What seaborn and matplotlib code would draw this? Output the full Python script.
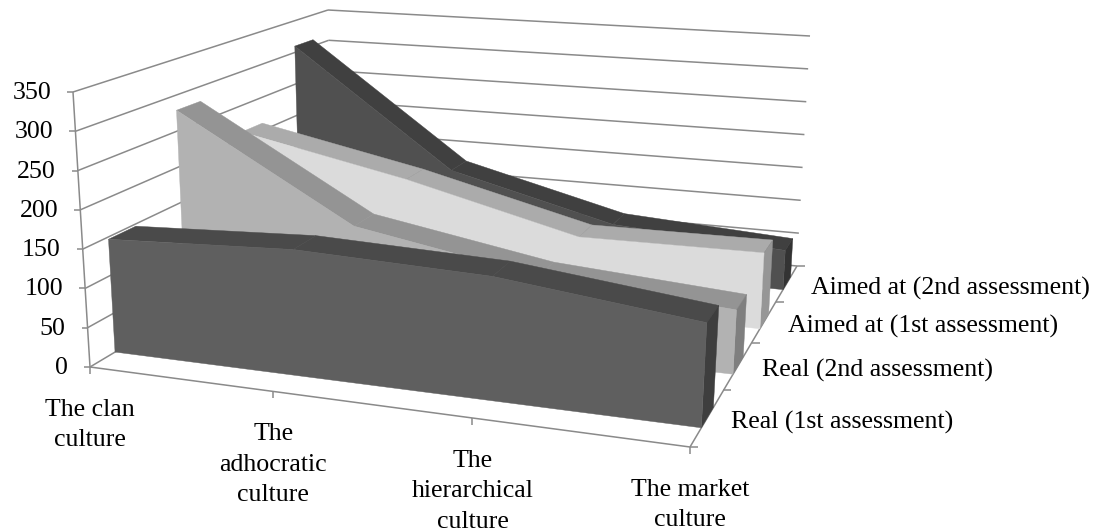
import numpy as np
import matplotlib
matplotlib.use("Agg")
import matplotlib.pyplot as plt
import seaborn as sns

# Data

categories = ["The clan\nculture", "The\nadhocratic\nculture", "The\nhierarchical\nculture", "The market\nculture"]
series_names = ["Real (1st assessment)", "Real (2nd assessment)", "Aimed at (1st assessment)", "Aimed at (2nd assessment)"]
real_1st = [147, 158, 150, 122]
real_2nd = [279, 140, 98, 81]
aimed_1st = [211, 161, 101, 103]
aimed_2nd = [310, 133, 72, 57]
y_ticks = [0, 50, 100, 150, 200, 250, 300, 350]

series_values = [real_1st, real_2nd, aimed_1st, aimed_2nd]

# front, top, side shades for each series
shades = [sns.color_palette(["#5f5f5f", "#4a4a4a", "#3e3e3e"]),
          sns.color_palette(["#b2b2b2", "#949494", "#7f7f7f"]),
          sns.color_palette(["#dbdbdb", "#ababab", "#969696"]),
          sns.color_palette(["#505050", "#404040", "#333333"])]

sns.set_theme(style="white")
plt.rcParams["font.family"] = ["Liberation Serif", "DejaVu Serif"]


# Projection of the 3d box on the picture


def homography(corners):
    (x0, y0), (x1, y1), (x2, y2), (x3, y3) = corners
    dx1, dx2, sx = x1 - x2, x3 - x2, x0 - x1 + x2 - x3
    dy1, dy2, sy = y1 - y2, y3 - y2, y0 - y1 + y2 - y3
    det = dx1 * dy2 - dx2 * dy1
    g = (sx * dy2 - dx2 * sy) / det
    h = (dx1 * sy - sx * dy1) / det
    return np.array([[x1 - x0 + g * x1, x3 - x0 + h * x3, x0],
                     [y1 - y0 + g * y1, y3 - y0 + h * y3, y0],
                     [g, h, 1]])


# front left, front right, back right, back left
floor = homography([(90, 367), (690, 447), (797, 266), (333, 222)])
roof = homography([(73, 92), (706, 137), (810, 36), (328, 10)])


def project(cat, depth, value):
    p = np.array([cat / 3, depth / 4, 1])
    a = floor @ p
    b = roof @ p
    a = a[:2] / a[2]
    b = b[:2] / b[2]
    return a + (b - a) * value / 350


fig, ax = plt.subplots(figsize=(11.02, 5.31), dpi=100)
fig.subplots_adjust(0, 0, 1, 1)
ax.set_xlim(0, 1102)
ax.set_ylim(531, 0)
ax.axis("off")

grid = "#8a8a8a"


def line(a, b, lw=1.1):
    ax.plot([a[0], b[0]], [a[1], b[1]], color=grid, lw=lw, zorder=1, solid_capstyle="butt")


# Walls

for v in y_ticks:
    line(project(0, 0, v), project(0, 4, v))
    line(project(0, 4, v), project(3, 4, v))
    p = project(0, 0, v)
    line(p, p + np.array([-6, 0]))
    ax.text(p[0] - 22, p[1] + 1, str(v), ha="right", va="center", fontsize=18.6, color="black")

line(project(0, 0, 0), project(0, 0, 350))
line(project(0, 0, 0), project(3, 0, 0))
line(project(3, 0, 0), project(3, 4, 0))

for i, label in enumerate(categories):
    p = project(i, 0, 0)
    line(p, p + np.array([0, 7]))
    ax.text(p[0], p[1] + 32, label, ha="center", va="top", fontsize=18.6, color="black", linespacing=1.5)

for d in range(5):
    p = project(3, d, 0)
    line(p, p + np.array([8, 0]))

for s, name in enumerate(series_names):
    p = project(3, s + 0.5, 0)
    ax.text(p[0] + 24, p[1] + 5, name, ha="left", va="center", fontsize=18.6, color="black")


# Area series, back to front

front_d, back_d = 0.32, 0.68
for s in [3, 2, 1, 0]:
    vals = series_values[s]
    front, top, side = shades[s]
    z = 5 + (3 - s) * 3
    d0, d1 = s + front_d, s + back_d
    for i in range(3):
        quad = [project(i, d0, vals[i]), project(i + 1, d0, vals[i + 1]),
                project(i + 1, d1, vals[i + 1]), project(i, d1, vals[i])]
        ax.fill(*zip(*quad), color=top, lw=0.3, zorder=z)
    quad = [project(3, d0, 0), project(3, d1, 0), project(3, d1, vals[3]), project(3, d0, vals[3])]
    ax.fill(*zip(*quad), color=side, lw=0.3, zorder=z)
    poly = [project(i, d0, vals[i]) for i in range(4)] + [project(3, d0, 0), project(0, d0, 0)]
    ax.fill(*zip(*poly), color=front, lw=0.3, zorder=z + 1)

fig.savefig("out.png", dpi=100)
